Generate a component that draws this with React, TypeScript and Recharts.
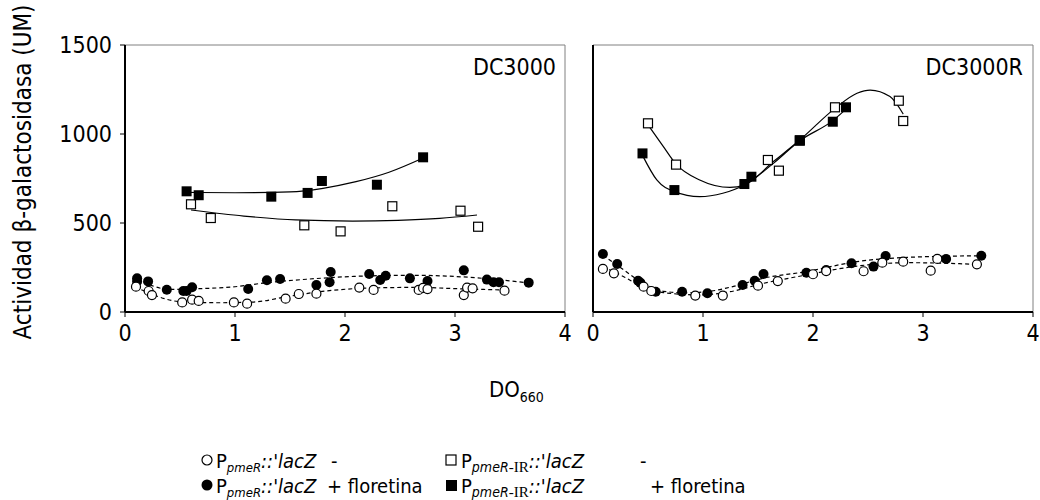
import React from 'react';
import { ComposedChart, Scatter, Line, XAxis, YAxis, ReferenceArea } from 'recharts';

const FONT = "'DejaVu Sans Condensed', 'DejaVu Sans', sans-serif";

const xTicks = [0, 1, 2, 3, 4];
const yTicks = [0, 500, 1000, 1500];

// DC3000 panel: [DO660, UM]
const dcPmeR = [[0.1, 142], [0.215, 118], [0.245, 95], [0.52, 54], [0.61, 69], [0.67, 62], [0.99, 54], [1.11, 47], [1.46, 75], [1.58, 101], [1.74, 103], [2.13, 137], [2.26, 124], [2.67, 124], [2.71, 135], [2.75, 129], [3.08, 95], [3.11, 137], [3.16, 133], [3.45, 120]];
const dcPmeRFlor = [[0.11, 189], [0.11, 172], [0.21, 172], [0.38, 125], [0.53, 118], [0.56, 118], [0.61, 139], [1.12, 129], [1.29, 178], [1.41, 185], [1.74, 152], [1.86, 167], [1.87, 225], [2.22, 213], [2.32, 180], [2.37, 204], [2.59, 189], [2.75, 174], [3.08, 234], [3.29, 182], [3.35, 167], [3.4, 167], [3.67, 165]];
const dcIR = [[0.6, 605], [0.78, 528], [1.63, 487], [1.96, 453], [2.43, 594], [3.05, 569], [3.21, 479]];
const dcIRFlor = [[0.56, 678], [0.67, 656], [1.33, 648], [1.66, 669], [1.79, 736], [2.29, 715], [2.71, 869]];

// trend curves as they appear in the picture
const dcPmeRFit = [[0.09, 142], [0.26, 96], [0.5, 58], [0.86, 52], [1.17, 56], [1.47, 86], [1.77, 114], [2.14, 133], [2.41, 137], [2.68, 139], [2.92, 133], [3.44, 124]];
const dcPmeRFlorFit = [[0.11, 184], [0.41, 127], [0.68, 131], [1.0, 142], [1.29, 165], [1.65, 184], [2.08, 200], [2.41, 205], [2.68, 206], [2.92, 202], [3.35, 184], [3.65, 165]];
const dcIRFit = [[0.6, 573], [1.08, 539], [1.55, 517], [2.07, 511], [2.48, 515], [2.86, 526], [3.2, 545]];
const dcIRFlorFit = [[0.56, 672], [1.0, 670], [1.5, 675], [1.8, 695], [2.1, 732], [2.4, 785], [2.71, 865]];

// DC3000R panel
const rPmeR = [[0.09, 242], [0.19, 217], [0.46, 142], [0.53, 118], [0.93, 92], [1.18, 92], [1.5, 148], [1.68, 174], [2.0, 212], [2.12, 230], [2.46, 229], [2.63, 277], [2.82, 283], [3.07, 232], [3.13, 298], [3.49, 268]];
const rPmeRFlor = [[0.09, 326], [0.22, 270], [0.41, 176], [0.43, 165], [0.57, 114], [0.81, 114], [1.04, 105], [1.36, 152], [1.47, 176], [1.55, 213], [1.94, 221], [2.12, 236], [2.35, 274], [2.55, 255], [2.66, 315], [3.21, 298], [3.53, 316]];
const rIR = [[0.5, 1060], [0.755, 828], [1.59, 854], [1.69, 794], [1.88, 965], [2.2, 1150], [2.78, 1187], [2.82, 1073]];
const rIRFlor = [[0.45, 891], [0.74, 685], [1.376, 719], [1.44, 760], [1.88, 962], [2.18, 1069], [2.3, 1150]];

const rPmeRFit = [[0.09, 255], [0.28, 198], [0.46, 139], [0.64, 109], [0.97, 96], [1.245, 114], [1.55, 161], [1.94, 208], [2.4, 258], [2.86, 277], [3.49, 268]];
const rPmeRFlorFit = [[0.09, 320], [0.28, 236], [0.46, 161], [0.64, 116], [0.85, 108], [1.05, 115], [1.245, 139], [1.55, 190], [1.94, 227], [2.4, 283], [2.86, 307], [3.53, 316]];
const rIRFit = [[0.5, 1051], [0.64, 929], [0.755, 831], [0.97, 742], [1.245, 700], [1.376, 713], [1.64, 845], [1.88, 966], [2.2, 1144], [2.4, 1229], [2.52, 1247], [2.7, 1210], [2.82, 1112]];
const rIRFlorFit = [[0.45, 880], [0.58, 742], [0.74, 676], [0.97, 648], [1.18, 667], [1.376, 713], [1.64, 835], [1.88, 962], [2.18, 1075], [2.3, 1140]];

const pts = (a: number[][]) => a.map(([x, y]) => ({ x, y }));

const openCircle = (p: any) => <circle cx={p.cx} cy={p.cy} r={4.5} fill="#fff" stroke="#000" strokeWidth={1.2} />;
const fullCircle = (p: any) => <circle cx={p.cx} cy={p.cy} r={5} fill="#000" />;
const openSquare = (p: any) => <rect x={p.cx - 4.5} y={p.cy - 4.5} width={9} height={9} fill="#fff" stroke="#000" strokeWidth={1.2} />;
const fullSquare = (p: any) => <rect x={p.cx - 5} y={p.cy - 5} width={10} height={10} fill="#000" />;

const tickStyle = { fill: '#000', fontSize: 23, fontFamily: FONT };

function Panel({ showY, sets }: { showY: boolean; sets: number[][][] }) {
  const [pO, pF, iO, iF, pOf, pFf, iOf, iFf] = sets;
  return (
    <ComposedChart
      width={showY ? 580 : 470}
      height={345}
      margin={{ top: 37, right: showY ? 23 : 20, bottom: 11, left: 0 }}
    >
      <XAxis
        type="number"
        dataKey="x"
        domain={[0, 4]}
        ticks={xTicks}
        interval={0}
        height={30}
        axisLine={{ stroke: '#000', strokeWidth: 2 }}
        tickLine={{ stroke: '#000' }}
        tickSize={5}
        tickMargin={8}
        tick={tickStyle}
      />
      <YAxis
        type="number"
        dataKey="y"
        domain={[0, 1500]}
        ticks={yTicks}
        interval={0}
        width={showY ? 117 : 10}
        axisLine={{ stroke: '#000', strokeWidth: 2 }}
        tickLine={{ stroke: '#000' }}
        tickSize={5}
        tickMargin={8}
        tick={showY ? tickStyle : false}
      />
      <ReferenceArea x1={0} x2={4} y1={0} y2={1500} fill="none" stroke="#808080" strokeWidth={1} />
      <Line data={pts(pOf)} dataKey="y" type="monotone" stroke="#000" strokeWidth={1.2} strokeDasharray="4 3" dot={false} activeDot={false} isAnimationActive={false} />
      <Line data={pts(pFf)} dataKey="y" type="monotone" stroke="#000" strokeWidth={1.2} strokeDasharray="4 3" dot={false} activeDot={false} isAnimationActive={false} />
      <Line data={pts(iOf)} dataKey="y" type="monotone" stroke="#000" strokeWidth={1.2} dot={false} activeDot={false} isAnimationActive={false} />
      <Line data={pts(iFf)} dataKey="y" type="monotone" stroke="#000" strokeWidth={1.2} dot={false} activeDot={false} isAnimationActive={false} />
      <Scatter data={pts(pF)} dataKey="y" shape={fullCircle} isAnimationActive={false} />
      <Scatter data={pts(pO)} dataKey="y" shape={openCircle} isAnimationActive={false} />
      <Scatter data={pts(iO)} dataKey="y" shape={openSquare} isAnimationActive={false} />
      <Scatter data={pts(iF)} dataKey="y" shape={fullSquare} isAnimationActive={false} />
    </ComposedChart>
  );
}

export default function App() {
  return (
    <div style={{ position: 'fixed', left: 0, top: 0, width: 1040, height: 500, overflow: 'hidden', fontFamily: FONT, background: '#fff' }}>
      <div style={{ position: 'absolute', left: 8, top: 8 }}>
        <Panel showY sets={[dcPmeR, dcPmeRFlor, dcIR, dcIRFlor, dcPmeRFit, dcPmeRFlorFit, dcIRFit, dcIRFlorFit]} />
      </div>
      <div style={{ position: 'absolute', left: 583, top: 8 }}>
        <Panel showY={false} sets={[rPmeR, rPmeRFlor, rIR, rIRFlor, rPmeRFit, rPmeRFlorFit, rIRFit, rIRFlorFit]} />
      </div>
      <svg
        width={1040}
        height={500}
        style={{ position: 'absolute', left: 0, top: 0, pointerEvents: 'none' }}
        fontFamily={FONT}
        fontSize={20}
      >
        <text x={556} y={75} textAnchor="end" fontSize={23}>DC3000</text>
        <text x={1023} y={75} textAnchor="end" fontSize={23}>DC3000R</text>
        <text transform="translate(31,172) rotate(-90)" textAnchor="middle" fontSize={24}>Actividad β-galactosidasa (UM)</text>
        <text x={489} y={397} fontSize={22}>
          DO<tspan fontSize={14} dy={5}>660</tspan>
        </text>

        {/* legend */}
        <circle cx={207} cy={460} r={5} fill="#fff" stroke="#000" strokeWidth={1.2} />
        <circle cx={207} cy={485} r={5.5} fill="#000" />
        <rect x={446} y={455} width={10} height={10} fill="#fff" stroke="#000" strokeWidth={1.2} />
        <rect x={446} y={480} width={11} height={11} fill="#000" />

        <text x={216} y={468}>
          P<tspan fontSize={13} fontStyle="italic" dy={4}>pmeR</tspan>
          <tspan fontStyle="italic" dy={-4}>::'lacZ</tspan>
          <tspan x={331}>-</tspan>
        </text>
        <text x={216} y={493}>
          P<tspan fontSize={13} fontStyle="italic" dy={4}>pmeR</tspan>
          <tspan fontStyle="italic" dy={-4}>::'lacZ</tspan>
          <tspan x={327}>+ floretina</tspan>
        </text>
        <text x={461} y={468}>
          P<tspan fontSize={14} fontStyle="italic" dy={4}>pmeR</tspan>
          <tspan fontSize={15} fontFamily="'Liberation Serif', serif">-IR</tspan>
          <tspan fontStyle="italic" dy={-4}>::'lacZ</tspan>
          <tspan x={640}>-</tspan>
        </text>
        <text x={461} y={493}>
          P<tspan fontSize={14} fontStyle="italic" dy={4}>pmeR</tspan>
          <tspan fontSize={15} fontFamily="'Liberation Serif', serif">-IR</tspan>
          <tspan fontStyle="italic" dy={-4}>::'lacZ</tspan>
          <tspan x={650}>+ floretina</tspan>
        </text>
      </svg>
    </div>
  );
}
